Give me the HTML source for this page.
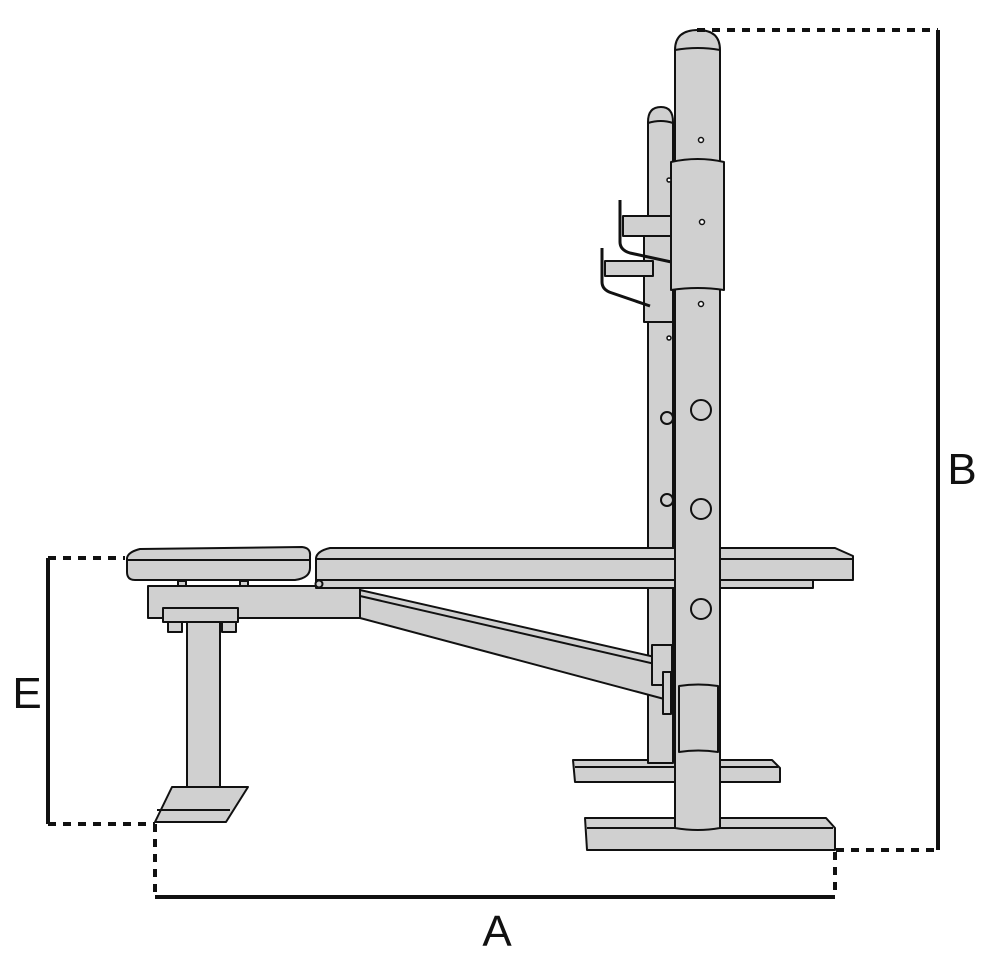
<!DOCTYPE html>
<html><head><style>body{margin:0;background:#fff}svg{display:block}</style></head>
<body>
<svg width="1000" height="973" viewBox="0 0 1000 973" xmlns="http://www.w3.org/2000/svg">
<g stroke="#111" stroke-width="2" fill="#d0d0d0" stroke-linejoin="round">
<!-- back base -->
<path d="M573 760 L772 760 L780 768 L780 782 L575 782 Z"/>
<line x1="575" y1="767" x2="778" y2="767"/>
<!-- back column -->
<path d="M648 763 L648 122 Q648 107 661 107 Q673 107 673 122 L673 763 Z"/>
<path d="M648 123 Q661 119 673 123" fill="none"/>
<rect x="644" y="236" width="29" height="86"/>
<!-- back hooks -->
<path d="M605 261 L653 261 L653 276 L605 276 Z"/>
<path d="M623 216 L672 216 L672 236 L623 236 Z"/>
<path d="M602 248 L602 282 Q602 290 612 293 L650 306" fill="none" stroke-width="3"/>
<path d="M620 200 L620 242 Q620 250 630 253 L676 263" fill="none" stroke-width="3"/>
<!-- left seat pad -->
<path d="M127 558 Q128 552 140 549 L302 547 Q311 548 310 556 L310 568 Q310 578 295 580 L135 580 Q127 580 127 572 Z"/>
<line x1="128" y1="560" x2="309" y2="560"/>
<!-- frame under seat -->
<rect x="148" y="586" width="212" height="32"/>
<rect x="178" y="581" width="8" height="5"/><rect x="240" y="581" width="8" height="5"/>
<!-- brace -->
<path d="M360 590 L668 660 L668 700 L360 618 Z"/>
<line x1="360" y1="596" x2="668" y2="667"/>
<!-- main pad -->
<path d="M316 558 Q317 551 330 548 L835 548 L853 556 L853 580 L316 580 Z"/>
<line x1="317" y1="559" x2="852" y2="559"/>
<rect x="316" y="580" width="497" height="8"/>
<circle cx="319" cy="584" r="3.5"/>
<!-- leg -->
<rect x="163" y="608" width="75" height="14"/>
<rect x="168" y="622" width="14" height="10"/><rect x="222" y="622" width="14" height="10"/>
<rect x="187" y="622" width="33" height="180"/>
<path d="M155 822 L226 822 L248 787 L172 787 Z"/>
<line x1="157" y1="810" x2="230" y2="810"/>
<!-- front base -->
<path d="M585 818 L826 818 L835 828 L835 850 L587 850 Z"/>
<line x1="587" y1="828" x2="833" y2="828"/>
<!-- back column lower sleeve -->
<rect x="652" y="645" width="20" height="40"/>
<!-- front column -->
<path d="M675 828 L675 50 Q675 30 698 30 Q720 30 720 50 L720 828 Q698 832 675 828 Z"/>
<path d="M675 50 Q698 46 720 50" fill="none"/>
<path d="M671 162 Q698 156 724 162 L724 290 Q698 286 671 290 Z"/>
<path d="M679 686 Q698 683 718 686 L718 752 Q698 749 679 752 Z"/>
<rect x="663" y="672" width="8" height="42"/>
</g>
<g stroke="#111" stroke-width="1.5" fill="#fff">
<circle cx="701" cy="140" r="2.5"/><circle cx="702" cy="222" r="2.5"/><circle cx="701" cy="304" r="2.5"/>
<circle cx="669" cy="338" r="2"/><circle cx="669" cy="180" r="2"/>
</g>
<g stroke="#111" stroke-width="2" fill="#d0d0d0">
<circle cx="701" cy="410" r="10"/><circle cx="701" cy="509" r="10"/><circle cx="701" cy="609" r="10"/>
<circle cx="667" cy="418" r="6"/><circle cx="667" cy="500" r="6"/>
</g>
<!-- dimensions -->
<g stroke="#111" stroke-width="4" fill="none">
<line x1="938" y1="30" x2="938" y2="850"/>
<line x1="697" y1="30" x2="938" y2="30" stroke-dasharray="8,7"/>
<line x1="836" y1="850" x2="938" y2="850" stroke-dasharray="8,7"/>
<line x1="155" y1="897" x2="835" y2="897"/>
<line x1="155" y1="824" x2="155" y2="897" stroke-dasharray="8,7"/>
<line x1="835" y1="852" x2="835" y2="897" stroke-dasharray="8,7"/>
<line x1="48" y1="558" x2="48" y2="824"/>
<line x1="48" y1="558" x2="125" y2="558" stroke-dasharray="8,7"/>
<line x1="48" y1="824" x2="155" y2="824" stroke-dasharray="8,7"/>
</g>
<g font-family="Liberation Sans, sans-serif" font-size="44" fill="#111" text-anchor="middle">
<text x="962" y="484">B</text>
<text x="497" y="946">A</text>
<text x="27" y="708">E</text>
</g>
</svg>
</body></html>
